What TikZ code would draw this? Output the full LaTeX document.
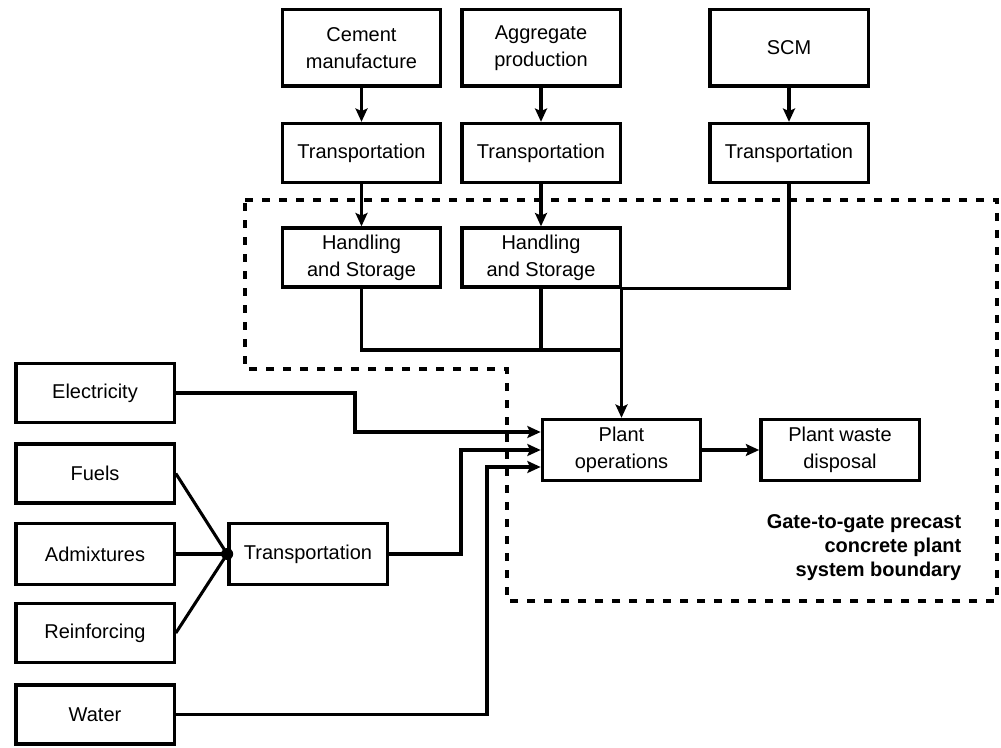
\documentclass[tikz,border=0pt]{standalone}
\usepackage{fontspec}
\setmainfont{Liberation Sans}
\usetikzlibrary{arrows.meta,calc}

\begin{document}
\begin{tikzpicture}[x=0.75pt,y=-0.75pt,
		box/.style={draw,line width=2.5pt,minimum width=118.75pt,minimum height=44.25pt,inner sep=0pt,align=center,font=\fontsize{15}{20.25}\selectfont},
		tallbox/.style={box,minimum height=57.25pt},
		flow/.style={line width=2.3pt},
		arr/.style={flow,-{Stealth[length=10pt,width=9pt,inset=2pt]}},
		boundary/.style={line width=2.4pt,dash pattern=on 6pt off 6.75pt}]
				\useasboundingbox (0,0) rectangle (1001,748);
				\pgfmathsetmacro\XC{361.5}
				\pgfmathsetmacro\XA{541}
				\pgfmathsetmacro\XS{789}
				\pgfmathsetmacro\XL{95}
				\pgfmathsetmacro\YT{48}
				\pgfmathsetmacro\YM{153}
				\pgfmathsetmacro\YH{257.5}

				\draw[boundary] (245,200) -- (997,200) -- (997,601) -- (507,601) -- (507,369) -- (245,369) -- cycle;

				\node[tallbox] (cem) at (\XC,\YT) {Cement\\manufacture};
				\node[tallbox] (agg) at (\XA,\YT) {Aggregate\\production};
				\node[tallbox] (scm) at (\XS,\YT) {SCM};
				\node[box] (ctr) at (\XC,\YM) {Transportation};
				\node[box] (atr) at (\XA,\YM) {Transportation};
				\node[box] (str) at (\XS,\YM) {Transportation};
				\node[box] (chs) at (\XC,\YH) {Handling\\and Storage};
				\node[box] (ahs) at (\XA,\YH) {Handling\\and Storage};

				\node[box] (elec) at (\XL,393) {Electricity};
				\node[box] (fuel) at (\XL,473.5) {Fuels};
				\node[box,minimum height=45.75pt] (admix) at (\XL,554) {Admixtures};
				\node[box] (reinf) at (\XL,633) {Reinforcing};
				\node[box] (water) at (\XL,714.5) {Water};
				\node[box,minimum height=45.75pt] (ltr) at (308,554) {Transportation};

				\node[box,minimum height=45.75pt] (plant) at (621.5,450) {Plant\\operations};
				\node[box,minimum height=45.75pt] (waste) at (840,450) {Plant waste\\disposal};
				\draw node[anchor=east,align=right,font=\fontsize{15}{18}\selectfont\bfseries] (label) at (966,548) {Gate-to-gate precast\\concrete plant\\system boundary};

				\coordinate (merge) at (621.5,350);
				\coordinate (pin1) at ($(plant.west)+(0,-18)$);
				\coordinate (pin3) at ($(plant.west)+(0,17)$);
				\coordinate (elecbend) at (355,432);
				\coordinate (trbend) at (461,450);
				\coordinate (wbend) at (487,467);

				\draw[arr] (cem) -- (ctr);
				\draw[arr] (agg) -- (atr);
				\draw[arr] (scm) -- (str);
				\draw[arr] (ctr) -- (chs);
				\draw[arr] (atr) -- (ahs);
				\draw[flow] (chs.south) |- (merge);
				\draw[flow] (ahs.south) -- (ahs.south |- merge);
				\draw[arr] (str.south) |- (plant.north |- chs.south) -- (plant.north);

				\draw[flow] (fuel.east) -- (ltr.west);
				\draw[flow] (admix.east) -- (ltr.west);
				\draw[flow] (reinf.east) -- (ltr.west);
				\fill (ltr.west) circle[radius=4.5pt];

				\draw[arr] (elec.east) -| (elecbend) -- (pin1);
				\draw[arr] (ltr.east) -| (trbend) -- (plant.west);
				\draw[arr] (water.east) -| (wbend) -- (pin3);
				\draw[arr] (plant) -- (waste);
			\end{tikzpicture}
\end{document}
